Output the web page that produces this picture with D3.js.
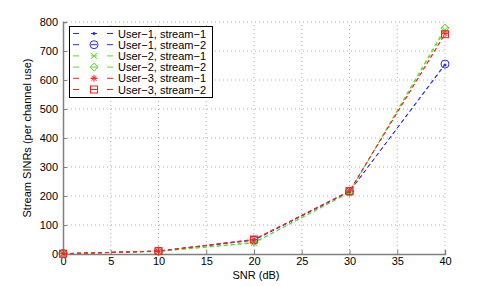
<!DOCTYPE html>
<html><head><meta charset="utf-8">
<script src="https://cdn.jsdelivr.net/npm/d3@7"></script>
<style>body{margin:0;background:#fff}svg{display:block}text{font-family:"Liberation Sans",Arial,sans-serif}</style>
</head><body>
<svg id="c" width="491" height="286"></svg>
<script>
const snr = [0, 10, 20, 30, 40];
const seriesNames = ["User\u22121, stream\u22121","User\u22121, stream\u22122","User\u22122, stream\u22121","User\u22122, stream\u22122","User\u22123, stream\u22121","User\u22123, stream\u22122"];
const u1s1 = [1, 10, 48, 215, 652];
const u1s2 = [1, 10, 48, 215, 655];
const u2s1 = [1, 9, 38, 212, 772];
const u2s2 = [1, 9, 40, 212, 779];
const u3s1 = [1, 10, 50, 217, 760];
const u3s2 = [1, 10, 50, 217, 758];
const xTicks = [0,5,10,15,20,25,30,35,40];
const yTicks = [0,100,200,300,400,500,600,700,800];

const colors = ["#2b2bff","#2b2bff","#55e020","#55e020","#ff2020","#ff2020"];
const markers = ["dot","circle","x","diamond","star","square"];
const values = [u1s1,u1s2,u2s1,u2s2,u3s1,u3s2];

const svg = d3.select("#c");
const L=63, R=445, T=22, B=254;
const x = d3.scaleLinear().domain([0,40]).range([L,R]);
const y = d3.scaleLinear().domain([0,800]).range([B,T]);

// grid
const g = svg.append("g");
xTicks.forEach(t=>{ if(t>0) g.append("line").attr("x1",x(t)).attr("x2",x(t)).attr("y1",B).attr("y2",T).attr("stroke","#b0b0b0").attr("stroke-width",1).attr("stroke-dasharray","1,3");});
yTicks.forEach(t=>{ if(t>0) g.append("line").attr("x1",L).attr("x2",R).attr("y1",y(t)).attr("y2",y(t)).attr("stroke","#b0b0b0").attr("stroke-width",1).attr("stroke-dasharray","1,3");});

// axes
const xa = svg.append("g").attr("transform",`translate(0,${B})`).call(d3.axisBottom(x).tickValues(xTicks).tickSize(-4).tickPadding(3).tickFormat(d3.format("d")));
const ya = svg.append("g").attr("transform",`translate(${L},0)`).call(d3.axisLeft(y).tickValues(yTicks).tickSize(-4).tickPadding(5).tickFormat(d3.format("d")));
[xa,ya].forEach(a=>{
  a.select(".domain").attr("stroke","#808080").attr("stroke-width",1.5);
  a.selectAll(".tick line").attr("stroke","#808080");
  a.selectAll("text").attr("font-size",11).attr("fill","#000").attr("font-family","Liberation Sans, Arial, sans-serif");
});

svg.append("text").attr("x",(L+R)/2+2).attr("y",279).attr("text-anchor","middle").attr("font-size",11).text("SNR (dB)");
svg.append("text").attr("transform",`translate(31,${(T+B)/2}) rotate(-90)`).attr("text-anchor","middle").attr("font-size",11).text("Stream SINRs (per channel use)");

function drawMarker(sel, type, cx, cy, col){
  const s=4;
  if(type==="dot") sel.append("circle").attr("cx",cx).attr("cy",cy).attr("r",1.5).attr("fill",col);
  else if(type==="circle") sel.append("circle").attr("cx",cx).attr("cy",cy).attr("r",s).attr("fill","none").attr("stroke",col).attr("stroke-width",1);
  else if(type==="x") sel.append("path").attr("d",`M${cx-3},${cy-3}L${cx+3},${cy+3}M${cx-3},${cy+3}L${cx+3},${cy-3}`).attr("stroke",col).attr("stroke-width",1);
  else if(type==="diamond") sel.append("path").attr("d",`M${cx},${cy-s}L${cx+s},${cy}L${cx},${cy+s}L${cx-s},${cy}Z`).attr("fill","none").attr("stroke",col).attr("stroke-width",1);
  else if(type==="star") sel.append("path").attr("d",`M${cx-3.5},${cy}L${cx+3.5},${cy}M${cx},${cy-3.5}L${cx},${cy+3.5}M${cx-2.5},${cy-2.5}L${cx+2.5},${cy+2.5}M${cx-2.5},${cy+2.5}L${cx+2.5},${cy-2.5}`).attr("stroke",col).attr("stroke-width",1);
  else if(type==="square") sel.append("rect").attr("x",cx-3.5).attr("y",cy-3.5).attr("width",7).attr("height",7).attr("fill","none").attr("stroke",col).attr("stroke-width",1);
}

const line = d3.line().x((d,i)=>x(snr[i])).y(d=>y(d));
values.forEach((vals,k)=>{
  const gg = svg.append("g");
  gg.append("path").datum(vals).attr("d",line).attr("fill","none").attr("stroke",colors[k]).attr("stroke-width",1).attr("stroke-dasharray","4,3");
  vals.forEach((v,i)=>drawMarker(gg, markers[k], x(snr[i]), y(v), colors[k]));
});

// legend
const lg = svg.append("g");
lg.append("rect").attr("x",69.5).attr("y",26.5).attr("width",143).attr("height",71).attr("fill","#fff").attr("stroke","#000").attr("stroke-width",1);
seriesNames.forEach((n,k)=>{
  const yy = 33.5 + k*11.2;
  lg.append("line").attr("x1",73).attr("x2",79).attr("y1",yy).attr("y2",yy).attr("stroke",colors[k]);
  lg.append("line").attr("x1",107).attr("x2",113).attr("y1",yy).attr("y2",yy).attr("stroke",colors[k]);
  lg.append("line").attr("x1",91).attr("x2",97).attr("y1",yy).attr("y2",yy).attr("stroke",colors[k]);
  drawMarker(lg, markers[k], 94, yy, colors[k]);
  lg.append("text").attr("x",118).attr("y",yy+4).attr("font-size",11).text(n);
});
</script>
</body></html>
